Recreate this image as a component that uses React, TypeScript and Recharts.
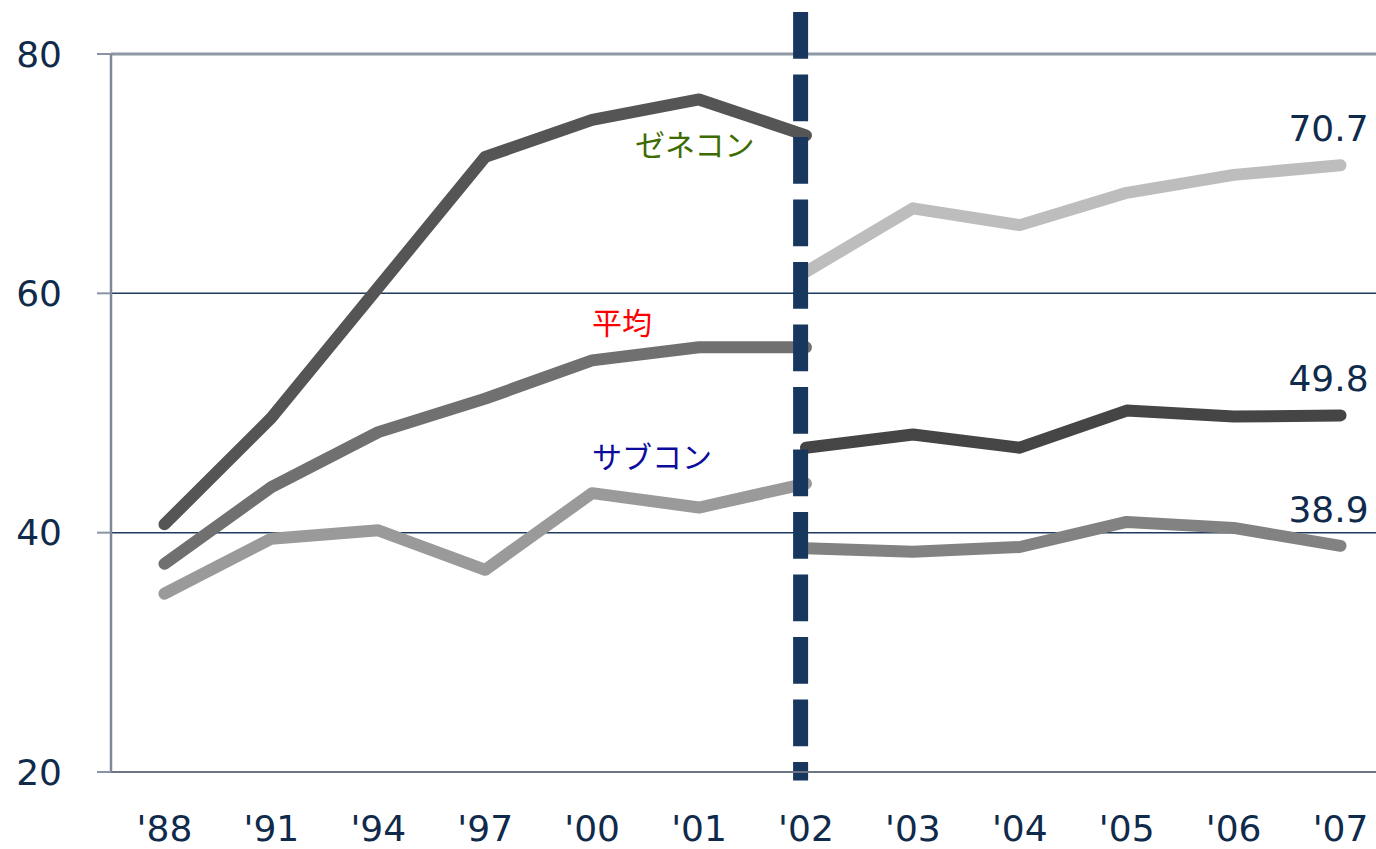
import React from "react";
import {
  LineChart, Line, XAxis, YAxis, CartesianGrid, ReferenceLine, ReferenceDot, LabelList,
} from "recharts";

// 年次カテゴリ
const years = ["'88", "'91", "'94", "'97", "'00", "'01", "'02", "'03", "'04", "'05", "'06", "'07"];

// '88〜'02（旧系列）
const zeneconOld = [40.7, 49.6, 60.5, 71.4, 74.5, 76.2, 73.2];
const heikinOld = [37.4, 43.8, 48.4, 51.2, 54.4, 55.5, 55.5];
const subconOld = [34.9, 39.5, 40.2, 36.9, 43.3, 42.1, 44.1];

// '02〜'07（新系列）
const zeneconNew = [61.8, 67.1, 65.7, 68.4, 69.9, 70.7];
const heikinNew = [47.1, 48.2, 47.1, 50.2, 49.7, 49.8];
const subconNew = [38.7, 38.4, 38.8, 40.9, 40.4, 38.9];

const yTicks = [20, 40, 60, 80];

// 系列名の注記（データ座標）
const notes = [
  { text: "ゼネコン", x: 4.96, y: 72.4, color: "#3d6b00" },
  { text: "平均", x: 4.28, y: 57.5, color: "#ff0000" },
  { text: "サブコン", x: 4.56, y: 46.3, color: "#0c0c9c" },
];

const breakX = 5.95; // 系列の切替（'02）

const NEW_START = 6;
const data = years.map((label, i) => ({
  i,
  label,
  zOld: i < zeneconOld.length ? zeneconOld[i] : null,
  hOld: i < heikinOld.length ? heikinOld[i] : null,
  sOld: i < subconOld.length ? subconOld[i] : null,
  zNew: i >= NEW_START ? zeneconNew[i - NEW_START] : null,
  hNew: i >= NEW_START ? heikinNew[i - NEW_START] : null,
  sNew: i >= NEW_START ? subconNew[i - NEW_START] : null,
}));

const NAVY = "#0f2a4a";
const FONT = "'DejaVu Sans', Verdana, sans-serif";

const EndLabel = (props: { x?: number; y?: number; index?: number; value?: number }) => {
  const { x = 0, y = 0, index, value } = props;
  if (index !== years.length - 1 || value == null) return null;
  return (
    <text x={x - 12} y={y - 24} textAnchor="middle" fill={NAVY} fontSize={36} fontFamily={FONT}>
      {value.toFixed(1)}
    </text>
  );
};

const lineProps = {
  type: "linear" as const,
  strokeWidth: 12,
  strokeLinecap: "round" as const,
  strokeLinejoin: "round" as const,
  dot: false,
  activeDot: false,
  isAnimationActive: false,
};

export default function App() {
  return (
    <div style={{ position: "absolute", left: 0, top: 0, width: 1376, height: 849, overflow: "hidden", background: "#fff" }}>
      <style>{"body{margin:0;overflow:hidden}"}</style>
      <LineChart width={1394} height={849} data={data} margin={{ top: 54, right: 0, bottom: 0, left: 0 }}>
        <CartesianGrid vertical={false} stroke="#1f3a5f" strokeWidth={1.5} />
        <XAxis
          type="number" dataKey="i" domain={[-0.5, 11.5]} ticks={years.map((_, i) => i)}
          tickFormatter={(v: number) => years[v]} interval={0}
          height={77} tickLine={false} tickSize={0} tickMargin={43}
          axisLine={{ stroke: "#6d7585", strokeWidth: 2 }}
          tick={{ fontSize: 36, fill: NAVY, fontFamily: FONT }}
        />
        <YAxis
          type="number" domain={[20, 80]} ticks={yTicks} width={111}
          tickSize={14} tickMargin={35}
          tickLine={{ stroke: "#8a93a3", strokeWidth: 2 }}
          axisLine={{ stroke: "#7f8898", strokeWidth: 2.5 }}
          tick={{ fontSize: 36, fill: NAVY, fontFamily: FONT }}
        />
        <ReferenceLine y={80} stroke="#8e97a6" strokeWidth={3} />

        <Line dataKey="zOld" stroke="#555555" {...lineProps} />
        <Line dataKey="hOld" stroke="#707070" {...lineProps} />
        <Line dataKey="sOld" stroke="#9a9a9a" {...lineProps} />
        <Line dataKey="zNew" stroke="#bdbdbd" {...lineProps}>
          <LabelList dataKey="zNew" content={EndLabel as any} />
        </Line>
        <Line dataKey="hNew" stroke="#454545" {...lineProps}>
          <LabelList dataKey="hNew" content={EndLabel as any} />
        </Line>
        <Line dataKey="sNew" stroke="#828282" {...lineProps}>
          <LabelList dataKey="sNew" content={EndLabel as any} />
        </Line>

        <ReferenceLine
          segment={[{ x: breakX, y: 83.5 }, { x: breakX, y: 19.3 }]}
          stroke="#17375e" strokeWidth={15} strokeDasharray="46.6 15.9"
          ifOverflow="visible"
        />

        {notes.map((n) => (
          <ReferenceDot
            key={n.text} x={n.x} y={n.y} r={0} fill="none" stroke="none"
            label={{ value: n.text, position: "center", fill: n.color, fontSize: 30, fontFamily: "'Noto Sans CJK JP', sans-serif" }}
          />
        ))}
      </LineChart>
    </div>
  );
}
